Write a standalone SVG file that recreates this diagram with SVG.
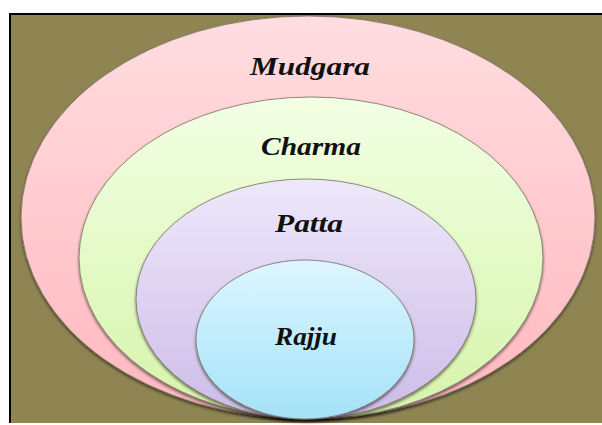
<svg xmlns="http://www.w3.org/2000/svg" width="602" height="425" viewBox="0 0 602 425">
<defs>
<linearGradient id="gPink" x1="0" y1="0" x2="0" y2="1"><stop offset="0" stop-color="#FFDDE0"/><stop offset="1" stop-color="#FFB8BE"/></linearGradient>
<linearGradient id="gGreen" x1="0" y1="0" x2="0" y2="1"><stop offset="0" stop-color="#F2FFE4"/><stop offset="1" stop-color="#D6F4AA"/></linearGradient>
<linearGradient id="gPurple" x1="0" y1="0" x2="0" y2="1"><stop offset="0" stop-color="#EEE8FA"/><stop offset="1" stop-color="#CCBCE8"/></linearGradient>
<linearGradient id="gBlue" x1="0" y1="0" x2="0" y2="1"><stop offset="0" stop-color="#DDF6FF"/><stop offset="1" stop-color="#A4E2F8"/></linearGradient>
<filter id="sh" x="-10%" y="-10%" width="120%" height="120%"><feDropShadow dx="0" dy="2" stdDeviation="1.5" flood-color="#000" flood-opacity="0.55"/></filter>
</defs>
<style>
.ring{stroke:#7A7060;stroke-width:0.8;filter:url(#sh)}
.lbl{font-family:"Liberation Serif","Times New Roman",serif;font-weight:bold;font-style:italic;font-size:26px;fill:#111;text-anchor:middle}
</style>
<rect x="0" y="0" width="602" height="425" fill="#FFFFFF"/>
<rect x="10" y="14" width="592" height="409" fill="#8F8553"/>
<rect x="9" y="13" width="593" height="2" fill="#000"/>
<rect x="9" y="13" width="2" height="410" fill="#000"/>
<g id="mudgara">
<ellipse class="ring" cx="308" cy="217.5" rx="287" ry="201.5" fill="url(#gPink)"/>
<text class="lbl" x="310" y="75" textLength="120" lengthAdjust="spacingAndGlyphs">Mudgara</text>
</g>
<g id="charma">
<ellipse class="ring" cx="311" cy="258" rx="232" ry="161" fill="url(#gGreen)"/>
<text class="lbl" x="311" y="155" textLength="100" lengthAdjust="spacingAndGlyphs">Charma</text>
</g>
<g id="patta">
<ellipse class="ring" cx="306" cy="299" rx="170" ry="120" fill="url(#gPurple)"/>
<text class="lbl" x="309" y="232" textLength="68" lengthAdjust="spacingAndGlyphs">Patta</text>
</g>
<g id="rajju">
<ellipse class="ring" cx="305" cy="339.5" rx="109" ry="79.5" fill="url(#gBlue)"/>
<text class="lbl" x="306" y="345" textLength="62" lengthAdjust="spacingAndGlyphs">Rajju</text>
</g>
<g id="connectors"/>
</svg>
